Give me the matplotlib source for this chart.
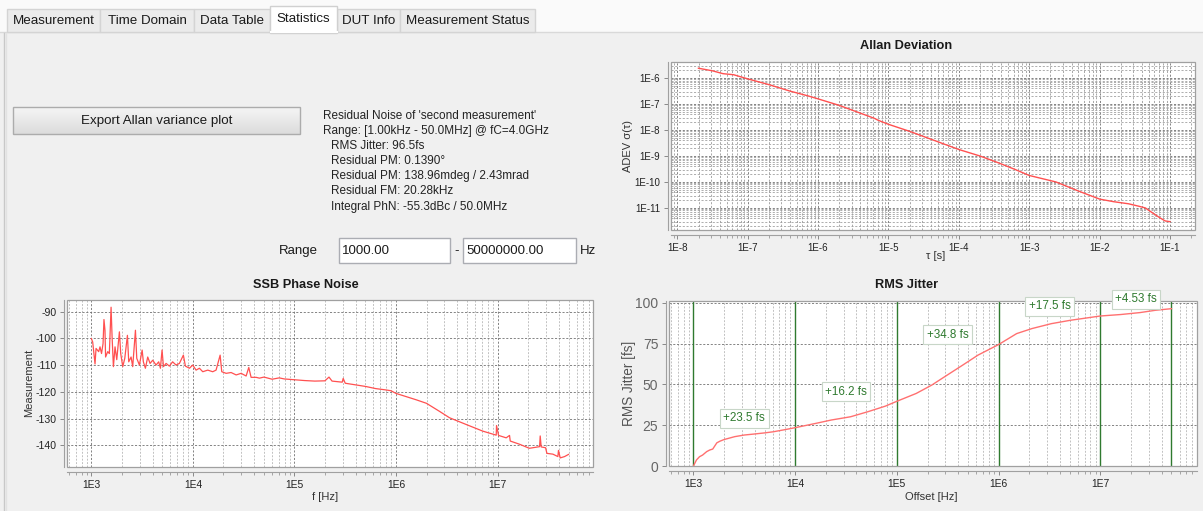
import numpy as np
import matplotlib
matplotlib.use("Agg")
import matplotlib.pyplot as plt
from matplotlib.patches import Rectangle
from matplotlib.ticker import LogLocator, FixedLocator, FuncFormatter, NullFormatter

plt.rcParams['font.family'] = ['Liberation Sans', 'DejaVu Sans']
plt.rcParams['axes.unicode_minus'] = False

W, H = 1203, 511

# ---- GUI text ----
tab_names = ["Measurement", "Time Domain", "Data Table", "Statistics", "DUT Info", "Measurement Status"]
tab_edges = [7, 100, 194, 270, 337, 400, 535]
active_tab = "Statistics"

info_lines = ["Residual Noise of 'second measurement'",
              "Range: [1.00kHz - 50.0MHz] @ fC=4.0GHz",
              "RMS Jitter: 96.5fs",
              "Residual PM: 0.1390\u00b0",
              "Residual PM: 138.96mdeg / 2.43mrad",
              "Residual FM: 20.28kHz",
              "Integral PhN: -55.3dBc / 50.0MHz"]
range_lo = "1000.00"
range_hi = "50000000.00"

# ---- Allan deviation (log10 values) ----
allan_log_tau = [-7.70, -7.50, -7.35, -7.20, -7.00, -6.70, -6.40, -6.15, -6.00, -5.70,
                 -5.40, -5.20, -5.15, -5.00, -4.70, -4.40, -4.20, -4.00, -3.70, -3.45,
                 -3.20, -3.00, -2.62, -2.30, -2.00, -1.80, -1.59, -1.45, -1.35, -1.26,
                 -1.15, -1.07, -1.00]
allan_log_adev = [-5.62, -5.72, -5.83, -5.87, -6.03, -6.25, -6.50, -6.68, -6.80, -7.05,
                  -7.35, -7.55, -7.62, -7.78, -8.05, -8.35, -8.55, -8.75, -9.00, -9.25,
                  -9.52, -9.75, -10.00, -10.35, -10.66, -10.76, -10.84, -10.93, -11.00, -11.17,
                  -11.37, -11.50, -11.53]

# ---- SSB phase noise ----
ssb_logf = [3.000, 3.013, 3.036, 3.046, 3.072, 3.085, 3.100, 3.115, 3.124, 3.134,
            3.140, 3.161, 3.177, 3.194, 3.204, 3.217, 3.233, 3.250, 3.276, 3.289,
            3.309, 3.329, 3.355, 3.368, 3.391, 3.407, 3.434, 3.447, 3.473, 3.500,
            3.512, 3.532, 3.555, 3.578, 3.604, 3.637, 3.663, 3.680, 3.696, 3.710,
            3.736, 3.768, 3.800, 3.834, 3.867, 3.906, 3.926, 3.966, 3.998, 4.031,
            4.064, 4.097, 4.146, 4.195, 4.228, 4.268, 4.284, 4.327, 4.376, 4.426,
            4.475, 4.524, 4.550, 4.573, 4.623, 4.655, 4.700, 4.780, 4.850, 4.900,
            5.000, 5.100, 5.200, 5.300, 5.340, 5.370, 5.470, 5.480, 5.500, 5.600,
            5.700, 5.800, 5.900, 5.950, 6.000, 6.100, 6.200, 6.300, 6.428, 6.527,
            6.690, 6.855, 6.987, 6.990, 7.010, 7.085, 7.118, 7.125, 7.217, 7.300,
            7.315, 7.414, 7.420, 7.430, 7.473, 7.486, 7.545, 7.594, 7.600, 7.617,
            7.660, 7.699]
ssb_dbc = [-100.1, -101.4, -109.6, -103.8, -105.0, -103.2, -105.7, -102.0, -93.0, -97.0,
           -107.0, -105.0, -105.7, -88.4, -99.5, -110.6, -103.2, -108.0, -97.6, -105.7,
           -110.6, -107.5, -98.9, -108.8, -107.0, -110.6, -97.0, -107.5, -110.0, -104.4,
           -108.8, -111.2, -107.0, -109.4, -108.2, -110.0, -108.8, -111.2, -104.4, -110.6,
           -109.4, -110.4, -108.8, -110.0, -109.4, -106.3, -110.4, -111.2, -110.0, -111.9,
           -111.2, -112.5, -111.9, -112.5, -111.9, -106.3, -112.5, -113.1, -112.8, -113.7,
           -113.1, -114.1, -110.9, -114.6, -114.6, -114.9, -114.5, -115.3, -114.8, -115.2,
           -115.5, -115.8, -116.0, -115.9, -114.5, -116.0, -116.4, -115.0, -116.8, -117.4,
           -118.0, -118.8, -119.3, -119.6, -120.6, -121.8, -123.0, -124.3, -127.3, -129.7,
           -132.2, -134.7, -136.2, -132.6, -136.3, -137.2, -136.3, -138.4, -139.6, -140.9,
           -141.1, -140.5, -136.5, -140.6, -140.9, -143.0, -143.3, -144.2, -141.9, -144.7,
           -144.2, -143.4]

# ---- integrated RMS jitter ----
jit_logf = [3.000, 3.030, 3.060, 3.090, 3.130, 3.160, 3.190, 3.230, 3.260, 3.300,
            3.406, 3.500, 3.596, 3.700, 3.786, 3.900, 4.000, 4.200, 4.355, 4.545,
            4.715, 4.886, 5.000, 5.190, 5.342, 5.493, 5.645, 5.797, 6.000, 6.177,
            6.328, 6.518, 6.708, 7.000, 7.200, 7.390, 7.540, 7.699]
jit_fs = [0.0, 3.7, 5.7, 6.7, 8.8, 9.8, 10.4, 14.2, 15.2, 16.2,
          18.0, 19.0, 19.6, 20.3, 21.0, 22.3, 23.5, 26.1, 28.2, 30.2,
          33.3, 36.7, 39.7, 44.5, 49.6, 55.7, 61.8, 68.0, 74.5, 81.2,
          84.3, 87.3, 89.4, 92.0, 92.9, 94.1, 95.5, 96.5]
seg_edges = [1e3, 1e4, 1e5, 1e6, 1e7, 5e7]
seg_labels = ["+23.5 fs", "+16.2 fs", "+34.8 fs", "+17.5 fs", "+4.53 fs"]
seg_label_y = [29.2, 45.5, 80.6, 98.0, 102.4]

RED = '#ff5050'
GREEN = '#2f7a2f'
AXC = '#a0a0a0'

fig = plt.figure(figsize=(W / 100, H / 100), dpi=100, facecolor='#f0f0f0')

# background / GUI layer in pixel coords
bg = fig.add_axes([0, 0, 1, 1])
bg.axis('off')

bg.add_patch(Rectangle((0, 0), W, 32, fc='#fafafa', ec='none'))
bg.plot([0, W], [32.5, 32.5], color='#d9d9d9', lw=1)
bg.plot([3.5, 3.5], [33, H], color='#c8c8c8', lw=1)
bg.plot([5.5, 5.5], [33, H], color='#e2e2e2', lw=1)
for i, name in enumerate(tab_names):
    x0, x1 = tab_edges[i], tab_edges[i + 1]
    if name == active_tab:
        bg.add_patch(Rectangle((x0, 6), x1 - x0, 27, fc='white', ec='#d0d0d0', lw=1, zorder=3))
        bg.plot([x0 + 0.5, x1 - 0.5], [32.5, 32.5], color='white', lw=1.5, zorder=4)
        ty = 19.5
    else:
        bg.add_patch(Rectangle((x0, 9), x1 - x0, 23, fc='#ebebeb', ec='#d4d4d4', lw=1, zorder=2))
        ty = 21.5
    bg.text((x0 + x1) / 2, ty, name, ha='center', va='center', fontsize=9.6, color='#1a1a1a', zorder=5)

# export button with vertical gradient
grad = np.linspace(0, 1, 64).reshape(-1, 1)
bg.imshow(grad, extent=(13, 300, 134, 107), cmap=matplotlib.colors.LinearSegmentedColormap.from_list(
    'btn', ['#f5f5f5', '#dcdcdc']), aspect='auto', zorder=1)
bg.add_patch(Rectangle((13, 107), 287, 27, fc='none', ec='#acacac', lw=1, zorder=2))
bg.text(156.5, 121, "Export Allan variance plot", ha='center', va='center', fontsize=9.6, color='#1a1a1a', zorder=3)
bg.set_xlim(0, W)
bg.set_ylim(H, 0)

# info text
for i, line in enumerate(info_lines):
    x = 323 if i < 2 else 331
    bg.text(x, 116 + 15.1 * i, line, ha='left', va='center', fontsize=8.5, color='#222222')

# range entry
bg.text(279, 251, "Range", ha='left', va='center', fontsize=9.5, color='#1a1a1a')
bg.add_patch(Rectangle((339, 238), 111, 25, fc='white', ec='#abadb3', lw=1))
bg.add_patch(Rectangle((463, 238), 113, 25, fc='white', ec='#abadb3', lw=1))
bg.text(342, 251, range_lo, ha='left', va='center', fontsize=9.5, color='#1a1a1a')
bg.text(466, 251, range_hi, ha='left', va='center', fontsize=9.5, color='#1a1a1a')
bg.text(456.5, 251, "-", ha='center', va='center', fontsize=9.5, color='#1a1a1a')
bg.text(580, 251, "Hz", ha='left', va='center', fontsize=9.5, color='#1a1a1a')

# titles and axis labels
bg.text(906, 46, "Allan Deviation", ha='center', va='center', fontsize=9.2, fontweight='bold', color='#1a1a1a')
bg.text(306, 285, "SSB Phase Noise", ha='center', va='center', fontsize=9.2, fontweight='bold', color='#1a1a1a')
bg.text(907, 285, "RMS Jitter", ha='center', va='center', fontsize=9.2, fontweight='bold', color='#1a1a1a')
bg.text(628, 146, "ADEV \u03c3(\u03c4)", rotation=90, ha='center', va='center', fontsize=8, color='#333333')
bg.text(936, 256, "\u03c4 [s]", ha='center', va='center', fontsize=8, color='#333333')
bg.text(29, 383, "Measurement", rotation=90, ha='center', va='center', fontsize=8, color='#333333')
bg.text(325, 497, "f [Hz]", ha='center', va='center', fontsize=8, color='#333333')
bg.text(629, 383, "RMS Jitter [fs]", rotation=90, ha='center', va='center', fontsize=9.8, color='#555555')
bg.text(931, 497, "Offset [Hz]", ha='center', va='center', fontsize=8, color='#333333')


def px_axes(l, t, r, b):
    return fig.add_axes([l / W, 1 - b / H, (r - l) / W, (b - t) / H])


def dec_fmt(v, p):
    return "1E%d" % int(round(np.log10(v)))


def style_axes(ax, ylog=False):
    ax.set_facecolor('white')
    for s in ax.spines.values():
        s.set_color(AXC)
        s.set_linewidth(0.8)
    ax.spines['bottom'].set_position(('outward', 3.6))
    ax.spines['left'].set_position(('outward', 2.2))
    ax.spines['top'].set_visible(False)
    ax.spines['right'].set_visible(False)
    ax.add_patch(Rectangle((0, 0), 1, 1, transform=ax.transAxes, fill=False,
                           ec=AXC, lw=0.9, clip_on=False, zorder=5))
    ax.set_xscale('log')
    ax.xaxis.set_major_formatter(FuncFormatter(dec_fmt))
    ax.xaxis.set_minor_locator(LogLocator(base=10, subs=np.arange(2, 10), numticks=30))
    ax.xaxis.set_minor_formatter(NullFormatter())
    ax.tick_params(which='major', direction='out', length=3, width=0.7, color='#888888',
                   labelsize=7.4, pad=2.5, labelcolor='#222222')
    ax.tick_params(which='minor', direction='out', length=2, width=0.6, color='#999999')
    ax.grid(which='major', ls=(0, (2.5, 2)), color='#707070', lw=0.6)
    ax.grid(which='minor', axis='x', ls=(0, (2.5, 2)), color='#b0b0b0', lw=0.55)
    if ylog:
        ax.grid(which='minor', axis='y', ls=(0, (2.5, 2)), color='#a0a0a0', lw=0.6)


# Allan deviation
ax1 = px_axes(671, 62, 1195, 230)
style_axes(ax1, ylog=True)
ax1.set_yscale('log')
ax1.plot(10 ** np.array(allan_log_tau), 10 ** np.array(allan_log_adev), color=RED, lw=1.0)
ax1.set_xlim(10 ** -8.09, 10 ** -0.645)
ax1.set_ylim(10 ** -11.85, 10 ** -5.38)
ax1.xaxis.set_major_locator(FixedLocator([10.0 ** k for k in range(-8, 0)]))
ax1.yaxis.set_major_locator(FixedLocator([10.0 ** k for k in range(-11, -5)]))
ax1.yaxis.set_major_formatter(FuncFormatter(dec_fmt))
ax1.yaxis.set_minor_locator(LogLocator(base=10, subs=np.arange(2, 10), numticks=30))
ax1.yaxis.set_minor_formatter(NullFormatter())
ax1.tick_params(axis='y', which='minor', length=0)
ax1.tick_params(labelsize=7)
ax1.grid(which='minor', axis='x', ls=(0, (2.5, 2)), color='#9a9a9a', lw=0.6)

# SSB phase noise
ax2 = px_axes(67, 300, 593, 467)
style_axes(ax2)
ax2.plot(10 ** np.array(ssb_logf), ssb_dbc, color=RED, lw=0.9)
ax2.set_xlim(10 ** 2.76, 10 ** 7.94)
ax2.set_ylim(-148.1, -85.7)
ax2.xaxis.set_major_locator(FixedLocator([10.0 ** k for k in range(3, 8)]))
ax2.yaxis.set_major_locator(FixedLocator([-140, -130, -120, -110, -100, -90]))
ax2.tick_params(axis='y', labelsize=7.6)

# RMS jitter
ax3 = px_axes(669, 301, 1197, 466)
style_axes(ax3)
ax3.plot(10 ** np.array(jit_logf), jit_fs, color='#ff7070', lw=1.0, zorder=3)
for e in seg_edges:
    ax3.axvline(e, color=GREEN, lw=1.0, zorder=2)
for k, lab in enumerate(seg_labels):
    xm = np.sqrt(seg_edges[k] * seg_edges[k + 1])
    ax3.text(xm, seg_label_y[k], lab, ha='center', va='center', fontsize=8.4, color=GREEN,
             clip_on=False, zorder=6,
             bbox=dict(boxstyle='square,pad=0.3', fc='white', ec='#c8d6c8', lw=0.8))
ax3.set_xlim(10 ** 2.76, 10 ** 7.95)
ax3.set_ylim(0, 101.2)
ax3.xaxis.set_major_locator(FixedLocator([10.0 ** k for k in range(3, 8)]))
ax3.yaxis.set_major_locator(FixedLocator([0, 25, 50, 75, 100]))
ax3.tick_params(axis='y', labelsize=10, labelcolor='#666666')

fig.savefig("out.png", dpi=100, facecolor=fig.get_facecolor())
